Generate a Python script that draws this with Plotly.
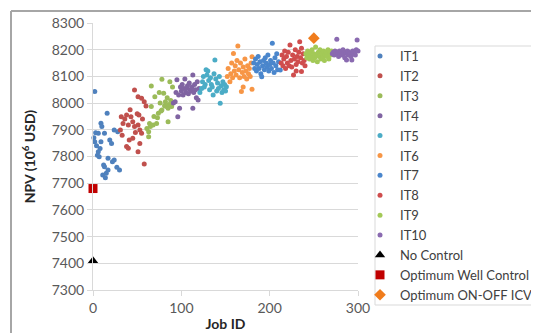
import plotly.graph_objects as go

# ---- data ----
series_names = ["IT1", "IT2", "IT3", "IT4", "IT5", "IT6", "IT7", "IT8", "IT9", "IT10"]

it1_x = [1, 2, 2, 3, 4, 5, 6, 6, 7, 8, 9, 9, 10, 11, 12, 13, 13, 14, 15, 16, 17, 17, 19, 21, 22, 24, 24, 27, 28, 30]
it1_y = [7870, 8043, 7855, 7889, 7840, 7805, 7887, 7818, 7799, 7830, 7925, 7855, 7912, 7731, 7768, 7887, 7762, 7720, 7737, 7962, 7793, 7749, 7862, 7849, 7780, 7899, 7787, 7760, 7893, 7749]

it2_x = [31, 32, 33, 34, 36, 38, 38, 40, 40, 41, 42, 43, 45, 45, 47, 47, 48, 50, 51, 51, 51, 52, 53, 53, 55, 55, 56, 58, 58, 60]
it2_y = [7899, 7949, 7880, 7924, 7940, 7955, 7837, 7918, 7831, 7862, 7975, 7949, 7868, 7930, 8049, 7912, 7890, 7960, 8024, 7918, 7818, 7955, 7899, 7849, 8018, 7887, 7940, 8005, 7772, 7989]

it3_x = [61, 63, 63, 64, 65, 66, 66, 68, 69, 70, 72, 73, 74, 75, 76, 77, 78, 78, 80, 81, 82, 83, 84, 85, 85, 86, 87, 88, 89, 90]
it3_y = [7905, 7893, 7874, 7924, 7912, 8064, 7987, 7918, 7950, 8024, 7924, 7945, 7962, 8040, 8000, 7970, 8089, 7974, 8037, 7990, 8005, 7987, 8020, 7981, 7930, 7995, 8080, 8010, 7987, 8060]

it4_x = [91, 93, 94, 95, 96, 97, 98, 99, 100, 101, 102, 103, 104, 105, 106, 107, 108, 109, 110, 111, 112, 113, 113, 114, 115, 116, 117, 118, 119, 120]
it4_y = [8000, 8005, 8040, 8087, 7949, 8030, 7981, 8060, 8045, 8070, 8030, 8055, 8090, 8040, 8055, 8065, 8035, 8075, 8050, 8045, 8060, 8105, 7981, 8040, 8070, 8050, 8020, 8080, 8012, 8055]

it5_x = [121, 123, 124, 125, 126, 127, 128, 129, 130, 131, 132, 133, 134, 135, 136, 137, 138, 139, 140, 141, 142, 143, 144, 145, 146, 147, 148, 149, 150, 151]
it5_y = [8040, 8055, 8080, 8100, 8060, 8070, 8125, 8105, 8120, 8085, 8050, 8095, 8070, 8060, 8030, 8110, 8161, 8090, 8045, 8075, 8055, 8100, 7999, 8065, 8040, 8080, 8050, 8070, 8045, 8061]

it6_x = [152, 153, 155, 156, 157, 158, 159, 160, 161, 162, 163, 164, 165, 166, 167, 168, 169, 170, 170, 171, 172, 173, 174, 175, 176, 177, 178, 179, 180, 180]
it6_y = [8100, 8130, 8080, 8110, 8150, 8095, 8186, 8120, 8140, 8105, 8160, 8214, 8125, 8095, 8150, 8043, 8115, 8135, 8060, 8100, 8165, 8120, 8090, 8140, 8110, 8130, 8100, 8150, 8052, 8174]

it7_x = [182, 183, 184, 185, 186, 187, 188, 189, 190, 191, 192, 193, 194, 195, 196, 197, 198, 199, 200, 201, 202, 203, 204, 205, 206, 207, 208, 209, 210, 212]
it7_y = [8150, 8130, 8165, 8120, 8145, 8175, 8130, 8155, 8110, 8099, 8140, 8160, 8125, 8170, 8150, 8135, 8180, 8120, 8145, 8160, 8130, 8224, 8150, 8115, 8170, 8140, 8185, 8125, 8155, 8124]

it8_x = [213, 214, 215, 216, 217, 218, 219, 220, 221, 222, 223, 224, 225, 226, 227, 228, 229, 230, 230, 231, 232, 233, 234, 235, 236, 236, 237, 238, 239, 240]
it8_y = [8150, 8180, 8140, 8165, 8195, 8130, 8175, 8150, 8190, 8140, 8218, 8160, 8135, 8180, 8105, 8165, 8200, 8145, 8120, 8175, 8155, 8190, 8230, 8170, 8118, 8205, 8150, 8185, 8160, 8140]

it9_x = [241, 242, 243, 244, 245, 246, 247, 248, 249, 250, 251, 252, 253, 254, 255, 256, 257, 258, 259, 260, 261, 262, 263, 264, 265, 266, 267, 268, 269, 270]
it9_y = [8185, 8170, 8195, 8180, 8165, 8190, 8175, 8200, 8160, 8185, 8170, 8210, 8180, 8155, 8190, 8175, 8200, 8165, 8185, 8170, 8195, 8160, 8180, 8190, 8175, 8200, 8165, 8185, 8180, 8195]

it10_x = [271, 272, 273, 274, 275, 276, 277, 278, 279, 280, 281, 282, 283, 284, 285, 286, 287, 288, 289, 290, 291, 292, 293, 294, 295, 296, 297, 298, 299, 300]
it10_y = [8185, 8190, 8180, 8195, 8185, 8239, 8190, 8175, 8195, 8185, 8190, 8180, 8200, 8185, 8170, 8190, 8161, 8195, 8180, 8190, 8185, 8175, 8161, 8195, 8185, 8190, 8180, 8200, 8236, 8195]

no_control_x = [0]
no_control_y = [7410]
opt_well_x = [0]
opt_well_y = [7680]
opt_icv_x = [250]
opt_icv_y = [8243]

x_ticks = [0, 100, 200, 300]
y_ticks = [7300, 7400, 7500, 7600, 7700, 7800, 7900, 8000, 8100, 8200, 8300]

# ---- styling ----
colors = ["#4F81BD", "#C0504D", "#9BBB59", "#8064A2", "#4BACC6",
          "#F79646", "#4A86CC", "#CF4D4D", "#A3C957", "#8A6AB0"]
xs = [it1_x, it2_x, it3_x, it4_x, it5_x, it6_x, it7_x, it8_x, it9_x, it10_x]
ys = [it1_y, it2_y, it3_y, it4_y, it5_y, it6_y, it7_y, it8_y, it9_y, it10_y]

FONT = "Lato"
fig = go.Figure()
for name, x, y, c in zip(series_names, xs, ys, colors):
    fig.add_trace(go.Scatter(x=x, y=y, mode="markers", name=name,
                             marker=dict(color=c, size=5), cliponaxis=False))

fig.add_trace(go.Scatter(x=no_control_x, y=no_control_y, mode="markers", name="No Control",
                         marker=dict(color="black", size=9, symbol="triangle-up"), cliponaxis=False))
fig.add_trace(go.Scatter(x=opt_well_x, y=opt_well_y, mode="markers", name="Optimum Well Control",
                         marker=dict(color="#C00000", size=9, symbol="square"), cliponaxis=False))
fig.add_trace(go.Scatter(x=opt_icv_x, y=opt_icv_y, mode="markers", name="Optimum ON-OFF ICV",
                         marker=dict(color="#F07C1C", size=9, symbol="diamond"), cliponaxis=False))

# the page body adds an 8px offset; work in screen pixels and subtract it
OFF = 8
W, H = 539 - OFF, 333 - OFF
L, R, T, B = 93 - OFF, 181, 23 - OFF, 43
pw, ph = W - L - R, H - T - B

def px2paper_x(px):
    return (px - OFF - L) / pw

def px2paper_y(py):
    return (H - B - (py - OFF)) / ph

frame = "#A6A6A6"

def seg(x0, y0, x1, y1):
    return dict(type="line", xref="paper", yref="paper",
                x0=px2paper_x(x0), y0=px2paper_y(y0), x1=px2paper_x(x1), y1=px2paper_y(y1),
                line=dict(color=frame, width=2), layer="above")

fig.update_layout(
    width=W, height=H,
    margin=dict(l=L, r=R, t=T, b=B, pad=0, autoexpand=False),
    paper_bgcolor="white", plot_bgcolor="white",
    font=dict(family=FONT, size=13, color="#404040"),
    showlegend=True,
    legend=dict(x=px2paper_x(360), y=px2paper_y(41), xanchor="left", yanchor="top",
                borderwidth=0, bgcolor="rgba(0,0,0,0)",
                font=dict(family=FONT, size=13, color="#404040"),
                itemsizing="trace"),
    xaxis=dict(range=[0, 300], tickvals=x_ticks, showgrid=False, zeroline=False,
               showline=True, linecolor="#D9D9D9", linewidth=1,
               ticks="outside", ticklen=5, tickcolor="#D9D9D9",
               tickfont=dict(size=14, color="#595959"),
               title=dict(text="<b>Job ID</b>", font=dict(size=14, color="#262626"), standoff=4)),
    yaxis=dict(range=[7300, 8300], tickvals=y_ticks, showgrid=True, gridcolor="#D9D9D9",
               zeroline=False, showline=True, linecolor="#D9D9D9", linewidth=1,
               ticks="outside", ticklen=5, tickcolor="#D9D9D9",
               tickfont=dict(size=14, color="#595959"),
               title=dict(text="<b>NPV (10<sup>6</sup> USD)</b>", font=dict(size=14, color="#262626"), standoff=12)),
    shapes=[
        dict(type="rect", xref="paper", yref="paper",
             x0=px2paper_x(375), x1=px2paper_x(532), y0=px2paper_y(305), y1=px2paper_y(46),
             line=dict(color="#D9D9D9", width=1), fillcolor="white", layer="below"),
        seg(11, 11, 535, 11),
        seg(11, 11, 11, 333),
        seg(535, 11, 535, 333),
    ],
)

fig.write_html("out.html")
